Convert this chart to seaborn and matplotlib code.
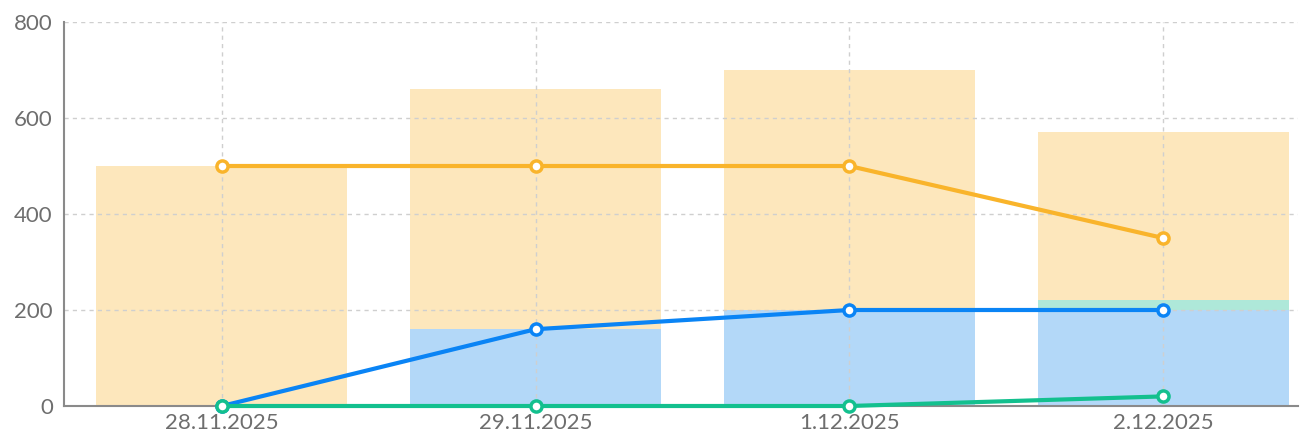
import numpy as np
import pandas as pd
import matplotlib
matplotlib.use("Agg")
import matplotlib.pyplot as plt
import seaborn as sns

dates = ["28.11.2025", "29.11.2025", "1.12.2025", "2.12.2025"]
blue_vals = [0, 160, 200, 200]
green_vals = [0, 0, 0, 20]
orange_vals = [500, 500, 500, 350]
y_ticks = [0, 200, 400, 600, 800]

ORANGE_LINE = "#F9B42B"
ORANGE_BAR = "#FDE7BC"
BLUE_LINE = "#0A84F5"
BLUE_BAR = "#B3D8F8"
GREEN_LINE = "#13C08E"
GREEN_BAR = "#AEE8D9"
TEXT = "#6E6E6E"
AXIS = "#8A8A8A"

sns.set_theme(style="white")
plt.rcParams["font.family"] = ["Lato", "DejaVu Sans"]

df = pd.DataFrame({"date": dates, "blue": blue_vals, "green": green_vals, "orange": orange_vals})
x = np.arange(len(dates))

fig = plt.figure(figsize=(13.01, 4.36), dpi=100)
ax = fig.add_axes([64 / 1301, 30 / 436, 1234 / 1301, 384 / 436])

# stacked bars: blue at the base, green above it, orange on top
bottom_green = np.array(blue_vals)
bottom_orange = bottom_green + np.array(green_vals)
sns.barplot(data=df, x="date", y="blue", color=BLUE_BAR, saturation=1, width=0.8, ax=ax, zorder=1)
sns.barplot(data=df, x="date", y="green", color=GREEN_BAR, saturation=1, width=0.8, bottom=bottom_green, ax=ax, zorder=1)
sns.barplot(data=df, x="date", y="orange", color=ORANGE_BAR, saturation=1, width=0.8, bottom=bottom_orange, ax=ax, zorder=1)
for p in ax.patches:
    p.set_linewidth(0)

# dashed grid drawn over the pale bars
for xi in x:
    ax.axvline(xi, color="#CFCFCF", lw=1, ls=(0, (3, 3)), zorder=2)
for yv in y_ticks[1:]:
    ax.axhline(yv, color="#CFCFCF", lw=1, ls=(0, (3, 3)), zorder=2)

for col, c in [("orange", ORANGE_LINE), ("blue", BLUE_LINE), ("green", GREEN_LINE)]:
    sns.lineplot(x=x, y=df[col], color=c, lw=3, marker="o", markersize=8,
                 markerfacecolor="white", markeredgecolor=c, markeredgewidth=2.5,
                 ax=ax, zorder=4, clip_on=False)

ax.set_xlim(-0.503, 3.43)
ax.set_ylim(0, 800)
ax.set_yticks(y_ticks)
ax.set_xticks(x)
ax.set_xticklabels(dates)
ax.set_xlabel("")
ax.set_ylabel("")

for s in ["top", "right"]:
    ax.spines[s].set_visible(False)
for s in ["left", "bottom"]:
    ax.spines[s].set_color(AXIS)
    ax.spines[s].set_linewidth(1.5)
    ax.spines[s].set_zorder(3)
ax.tick_params(axis="both", which="both", colors=AXIS, length=5, width=1.2,
               labelcolor=TEXT, labelsize=16, pad=1)
ax.tick_params(axis="x", direction="out", length=5, pad=0)
ax.tick_params(axis="y", direction="out", length=6, pad=2)

fig.savefig("out.png", dpi=100)
